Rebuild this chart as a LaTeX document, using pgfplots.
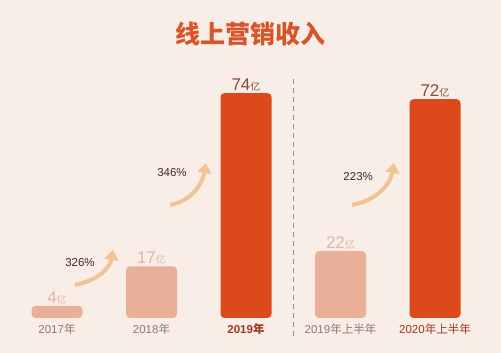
\documentclass[border=0pt]{standalone}
\usepackage{pgfplots}
\pgfplotsset{compat=1.18}
\usepackage{fontspec}
\setmainfont{Liberation Sans}
\newfontfamily\cjk{Noto Sans CJK SC}
\usetikzlibrary{arrows.meta}
\definecolor{bg}{HTML}{F9EDE8}
\definecolor{lightbar}{HTML}{E9AF98}
\definecolor{darkbar}{HTML}{DC4A1B}
\definecolor{lightlab}{HTML}{E3B6A6}
\definecolor{darklab}{HTML}{8A4B38}
\definecolor{ticklab}{HTML}{8C7A74}
\definecolor{tickdark}{HTML}{9B3A1C}
\definecolor{arrowc}{HTML}{F0C493}
\definecolor{titlec}{HTML}{D8542A}
\definecolor{pctc}{HTML}{3D2C27}
\definecolor{dashc}{HTML}{A38C82}
\begin{document}
\begin{tikzpicture}
\fill[bg] (0,0) rectangle (501pt,353pt);
\node[font=\cjk\bfseries\fontsize{25}{28}\selectfont, text=titlec] at (250pt,319pt) {线上营销收入};
\begin{axis}[at={(9.75pt,35pt)}, anchor=south west, scale only axis,
  width=472.5pt, height=243.2pt,
  xmin=-0.5, xmax=4.5, ymin=0, ymax=80, clip=false,
  axis line style={draw=none}, ytick=\empty, xtick={0,1,2,3,4}, major tick length=0pt,
  xticklabels={{2017{\cjk 年}},{2018{\cjk 年}},{\color{tickdark}\bfseries 2019{\cjk\bfseries 年}},{2019{\cjk 年上半年}},{\color{tickdark}2020{\cjk 年上半年}}},
  xticklabel style={font=\fontsize{11.5}{13}\selectfont, text=ticklab, yshift=-2pt},
  ybar, bar width=51pt, bar shift=0pt,
  point meta=explicit symbolic,
  nodes near coords={\pgfplotspointmeta{\cjk\fontsize{10}{12}\selectfont 亿}},
  every node near coord/.append style={font=\fontsize{17}{20}\selectfont, inner sep=1.5pt},
]
\addplot[fill=lightbar, draw=none, rounded corners=4pt,
  every node near coord/.append style={text=lightlab}]
  coordinates {(0,4) [4] (1,17) [17] (3,22) [22]};
\addplot[fill=darkbar, draw=none, rounded corners=4pt,
  every node near coord/.append style={text=darklab}]
  coordinates {(2,74) [74] (4,72) [72]};
\draw[dashc, line width=1.3pt, dash pattern=on 5pt off 4pt] (axis cs:2.5,78.5) -- (axis cs:2.5,-6.5);
\draw[arrowc, line width=4pt, -{Triangle[length=10pt,width=14pt]}] (axis cs:0.19,10.9) to[out=10,in=-100] (axis cs:0.593,22.4);
\draw[arrowc, line width=4pt, -{Triangle[length=10pt,width=14pt]}] (axis cs:1.196,37.2) to[out=10,in=-100] (axis cs:1.577,51);
\draw[arrowc, line width=4pt, -{Triangle[length=10pt,width=14pt]}] (axis cs:3.121,37.2) to[out=10,in=-100] (axis cs:3.566,51);
\node[text=pctc, font=\fontsize{11.5}{13}\selectfont] at (axis cs:0.243,18.1) {326\%};
\node[text=pctc, font=\fontsize{11.5}{13}\selectfont] at (axis cs:1.217,48) {346\%};
\node[text=pctc, font=\fontsize{11.5}{13}\selectfont] at (axis cs:3.187,46.4) {223\%};
\end{axis}
\end{tikzpicture}
\end{document}
